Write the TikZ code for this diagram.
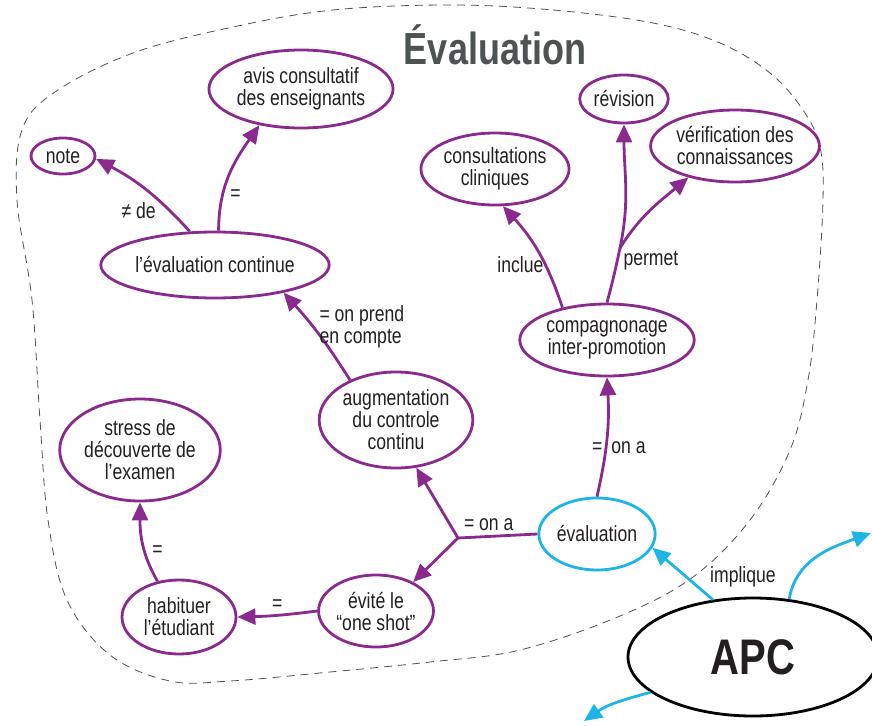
\documentclass[tikz,border=0pt]{standalone}
\usepackage{fontspec}
\setmainfont{Liberation Sans}[FakeStretch=0.8]
\usepackage{xcolor}
\usetikzlibrary{shapes.geometric, arrows.meta}

\definecolor{apcviolet}{HTML}{8B2A8E}
\definecolor{apccyan}{HTML}{1CB5E5}
\definecolor{apcgris}{HTML}{4D5253}
\definecolor{apctexte}{HTML}{231F20}

\begin{document}
\begin{tikzpicture}[x=1pt, y=1pt,
  font=\fontsize{22}{22}\selectfont, text=apctexte,
  concept/.style={ellipse, draw=apcviolet, line width=2.8pt, inner sep=1pt, align=center},
  lien/.style={draw=apcviolet, line width=2.8pt},
  fleche/.style={lien, -{Triangle[length=18pt,width=16pt]}},
  fleche bleue/.style={draw=apccyan, line width=2.8pt, -{Triangle[length=18pt,width=16pt]}}]

\useasboundingbox (0,0) rectangle (872,-725);

% contour
\draw[apcgris, line width=0.8pt, dash pattern=on 8pt off 6pt] plot[smooth cycle, tension=0.6] coordinates {
  (450,-5) (553,-10) (653,-23) (720,-43) (770,-73) (803,-110) (820,-147)
  (823,-200) (817,-300) (808,-380) (790,-450) (750,-520) (693,-577)
  (620,-616) (520,-650) (430,-662) (330,-672) (230,-681) (170,-681)
  (110,-655) (67,-600) (48,-520) (40,-420) (32,-300) (17,-200)
  (22,-130) (55,-92) (133,-53) (233,-27) (333,-10)};

\node[font=\fontsize{45}{45}\selectfont\bfseries, text=apcgris] (titre) at (495,-45) {Évaluation};

% concepts
\node[concept, minimum width=64pt, minimum height=36pt] (note) at (63,-156) {note};
\node[concept, minimum width=168pt, minimum height=78pt] (avis) at (301,-89) {avis consultatif\\des enseignants};
\node[concept, minimum width=198pt, minimum height=66pt] (cont) at (215,-265) {l’évaluation continue};
\node[concept, minimum width=146pt, minimum height=72pt] (consult) at (495,-169) {consultations\\cliniques};
\node[concept, minimum width=86pt, minimum height=48pt] (rev) at (624,-99) {révision};
\node[concept, minimum width=148pt, minimum height=72pt] (verif) at (735,-146) {vérification des\\connaissances};
\node[concept, minimum width=146pt, minimum height=72pt] (comp) at (607,-340) {compagnonage\\inter-promotion};
\node[concept, minimum width=148pt, minimum height=96pt] (aug) at (396,-420) {augmentation\\du controle\\continu};
\node[concept, minimum width=132pt, minimum height=102pt] (stress) at (140,-450) {stress de\\découverte de\\l’examen};
\node[concept, minimum width=114pt, minimum height=74pt] (hab) at (179,-617) {habituer\\l’étudiant};
\node[concept, minimum width=112pt, minimum height=72pt] (evite) at (376,-611) {évité le\\“one shot”};
\node[concept, draw=apccyan, minimum width=112pt, minimum height=72pt] (eval) at (597,-534) {évaluation};
\node[ellipse, draw=black, line width=2.8pt, minimum width=250pt, minimum height=118pt,
  font=\fontsize{50}{50}\selectfont\bfseries] (apc) at (753,-657) {APC};

\coordinate (jn) at (458,-538);
\coordinate (perm) at (620,-248);
\coordinate (droite) at (871,-533);
\coordinate (bas) at (584,-721);

% liens
\draw[fleche] (cont.127) to[bend right=10] node[pos=0.3, left=3pt, yshift=-6pt] {≠ de} (note.-5);
\draw[fleche] (cont.84) to[out=90, in=-125] node[pos=0.3, right=3pt] {=} (avis.-139);
\draw[fleche] (aug.139) to[bend right=5] (cont.-22);
\node[align=left, anchor=west] (prend) at (316,-327) {= on prend\\en compte};
\draw[fleche] (comp.144) to[bend right=12] node[pos=0.38, left=1pt, xshift=4pt] {inclue} (consult.-78);
\draw[lien] (comp.north) to[out=75, in=-102] (perm);
\draw[fleche] (perm) to[out=78, in=-90] (rev.south);
\draw[fleche] (perm) to[out=58, in=-140] (verif.-146);
\node[anchor=west] (permet) at (620,-261) {permet};
\draw[fleche] (eval.north) to[bend right=8] node[midway, xshift=12pt, yshift=-10pt] {=\hspace{9pt}on a} (comp.south);
\draw[lien] (eval.west) -- node[above=1pt, xshift=-9pt] {= on a} (jn);
\draw[fleche] (jn) -- (aug.-67);
\draw[fleche] (jn) -- (evite.38);
\draw[fleche] (evite.west) to[bend left=3] node[above=0pt] {=} (hab.east);
\draw[fleche] (hab.121) to[out=120, in=-90] node[pos=0.4, right=3pt] {=} (stress.south);

% APC
\draw[fleche bleue] (apc.125) -- (eval.-14);
\node (impl) at (743,-577) {implique};
\draw[fleche bleue] (apc.58) to[out=80, in=200] (droite);
\draw[fleche bleue] (apc.199) to[out=195, in=35] (bas);

\end{tikzpicture}
\end{document}
